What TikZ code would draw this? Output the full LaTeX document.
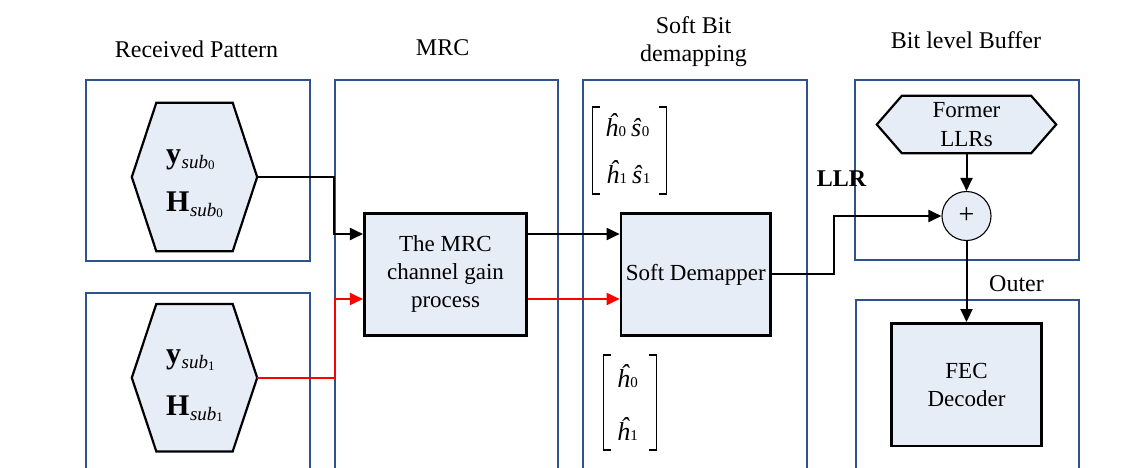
\documentclass[tikz,border=0pt]{standalone}
\usepackage{fontspec}
\setmainfont{Liberation Serif}
\usetikzlibrary{arrows.meta,calc}
\definecolor{boxblue}{RGB}{47,82,143}
\definecolor{fillblue}{RGB}{231,237,247}
\definecolor{linered}{RGB}{255,0,0}
\newcommand{\vsub}[2]{{\fontsize{30}{30}\selectfont\bfseries #1}\hspace{0.5pt}\raisebox{-5pt}{\fontsize{19}{19}\selectfont\itshape sub\raisebox{-1.5pt}{\fontsize{13}{13}\selectfont\upshape #2}}}
\newcommand{\dsub}[1]{{\fontsize{15}{15}\selectfont\upshape #1}}
\newcommand{\hexshape}[2]{\filldraw[hexline] (#1.west) -- ([xshift=#2]#1.north west) -- ([xshift=-#2]#1.north east) -- (#1.east) -- ([xshift=-#2]#1.south east) -- ([xshift=#2]#1.south west) -- cycle;}
\tikzset{
 bluebox/.style={draw=boxblue, line width=2.3pt, anchor=north west, inner sep=0pt},
 procbox/.style={draw=black, line width=2.7pt, fill=fillblue, inner sep=0pt, align=center, font=\fontsize{23}{28}\selectfont},
 hexnode/.style={inner sep=0pt},
 hexline/.style={draw=black, line width=2.2pt, fill=fillblue, line join=miter},
 title/.style={font=\fontsize{24}{28.4}\selectfont, inner sep=0pt, align=center},
 conn/.style={line width=2pt, -{Triangle[length=13pt,width=12pt]}},
 connred/.style={conn, draw=linered},
 brk/.style={line width=1.3pt},
 mtx/.style={anchor=base west, inner sep=0pt, font=\fontsize{26}{26}\selectfont\itshape},
 vtxt/.style={anchor=base west, inner sep=0pt},
}
\begin{document}
\begin{tikzpicture}[x=1pt,y=-1pt]
\useasboundingbox (0,0) rectangle (1145,467);
\clip (0,0) rectangle (1145,467);
\fill[white] (0,0) rectangle (1145,467);

% column frames
\node[bluebox, minimum width=224pt, minimum height=181pt] (rp0) at (85,79) {};
\node[bluebox, minimum width=224pt, minimum height=190pt] (rp1) at (85,292) {};
\node[bluebox, minimum width=223pt, minimum height=401pt] (mrccol) at (334,79) {};
\node[bluebox, minimum width=223.7pt, minimum height=401pt] (sbcol) at (582,79) {};
\node[bluebox, minimum width=224pt, minimum height=180pt] (buf) at (854,79) {};
\node[bluebox, minimum width=223.5pt, minimum height=181pt] (outer) at (854.5,299) {};

% titles
\node[title, anchor=base] (t1) at (196.5,57.5) {Received Pattern};
\node[title, anchor=base] (t2) at (442.6,55) {MRC};
\node[title] (t3) at (693.5,41.9) {Soft Bit\\demapping};
\node[title, anchor=base] (t4) at (966,48.3) {Bit level Buffer};
\node[title, anchor=base] (t5) at (1016.5,291.7) {Outer};
\node[title, anchor=base, font=\fontsize{24}{28}\selectfont\bfseries] (llr) at (841.5,186.7) {LLR};

% hexagons (received pattern)
\node[hexnode, minimum width=125pt, minimum height=148pt] (hex1) at (194.5,177) {};
\hexshape{hex1}{24.5pt}
\node[vtxt] (y0) at (166,163) {\vsub{y}{0}};
\node[vtxt] (H0) at (166,211) {\vsub{H}{0}};

\node[hexnode, minimum width=125pt, minimum height=147pt] (hex2) at (194.5,377.7) {};
\hexshape{hex2}{24.5pt}
\node[vtxt] (y1) at (166,363.5) {\vsub{y}{1}};
\node[vtxt] (H1) at (166,415) {\vsub{H}{1}};

% former LLRs
\node[hexnode, minimum width=179pt, minimum height=57pt] (former) at (966.5,124.5) {};
\hexshape{former}{25pt}
\node[inner sep=0pt, align=center, font=\fontsize{23}{28.7}\selectfont] (formertxt) at (former) {Former\\LLRs};

% processing blocks
\node[procbox, minimum width=162.4pt, minimum height=122.2pt] (mrc) at (445.5,274.4) {The MRC\\channel gain\\process};
\node[procbox, minimum width=149.5pt, minimum height=122.2pt] (dem) at (695.75,274.4) {Soft Demapper};
\node[procbox, minimum width=150pt, minimum height=122.7pt] (fec) at (966.5,384.7) {FEC\\Decoder};
\node[circle, draw=black, line width=1.1pt, fill=fillblue, minimum size=49pt, inner sep=0pt, font=\fontsize{28}{28}\selectfont] (sum) at (966.5,216) {+};

% matrices
\draw[brk] (600.2,107) -- (592.5,107) -- (592.5,194) -- (600.2,194);
\draw[brk] (658.8,107) -- (666.5,107) -- (666.5,194) -- (658.8,194);
\node[mtx] (m1) at (605,136.7) {ĥ\hspace{0.5pt}\dsub{0}\hspace{5pt}ŝ\hspace{0.5pt}\dsub{0}};
\node[mtx] (m2) at (606,183) {ĥ\hspace{0.5pt}\dsub{1}\hspace{5pt}ŝ\hspace{0.5pt}\dsub{1}};

\draw[brk] (611,355) -- (603.3,355) -- (603.3,450) -- (611,450);
\draw[brk] (649,355) -- (656.7,355) -- (656.7,450) -- (649,450);
\node[mtx] (m3) at (616.7,387.3) {ĥ\hspace{0.5pt}\dsub{0}};
\node[mtx] (m4) at (616.7,440) {ĥ\hspace{0.5pt}\dsub{1}};

% connectors
\draw[conn] (hex1.east) -- ++(77,0) |- ([yshift=40.4pt]mrc.west);
\draw[connred] (hex2.east) -- ++(77.7,0) |- ([yshift=-24.6pt]mrc.west);
\draw[conn] ([yshift=40.4pt]mrc.east) -- ([yshift=40.4pt]dem.west);
\draw[connred] ([yshift=-24.6pt]mrc.east) -- ([yshift=-24.6pt]dem.west);
\draw[conn] (dem.east) -- ++(61.7,0) |- (sum.west);
\draw[conn] (former.south) -- (sum.north);
\draw[conn] (sum.south) -- (fec.north);
\end{tikzpicture}
\end{document}
